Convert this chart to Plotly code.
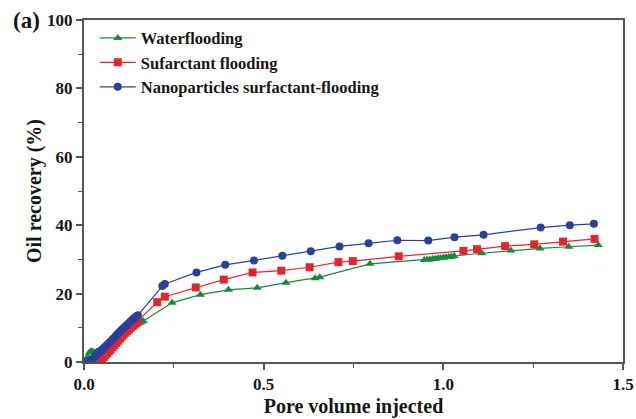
import plotly.graph_objects as go

# Pore volume injected (x) and oil recovery in % (y) for each flooding scheme
water_pv = [0.0, 0.01, 0.015, 0.02, 0.025, 0.03, 0.035, 0.04, 0.045, 0.05, 0.055, 0.06,
            0.065, 0.07, 0.075, 0.08, 0.085, 0.09, 0.095, 0.10, 0.105, 0.11, 0.115, 0.12,
            0.125, 0.13, 0.135, 0.14, 0.145, 0.15, 0.155, 0.16, 0.165,
            0.245, 0.324, 0.402, 0.482, 0.562, 0.643, 0.656, 0.796,
            0.947, 0.955, 0.962, 0.970, 0.977, 0.985, 0.992, 1.000, 1.007, 1.015, 1.022, 1.030,
            1.107, 1.188, 1.269, 1.349, 1.431]
water_rec = [0.0, 1.5, 2.8, 3.2, 3.0, 2.8, 3.0, 3.2, 3.5, 3.8, 4.2, 4.6,
             5.0, 5.4, 5.9, 6.3, 6.7, 7.1, 7.5, 7.9, 8.3, 8.7, 9.0, 9.4,
             9.7, 10.0, 10.3, 10.6, 10.9, 11.2, 11.5, 11.8, 12.0,
             17.3, 19.7, 21.1, 21.7, 23.2, 24.5, 24.8, 28.7,
             29.8, 29.9, 30.0, 30.1, 30.2, 30.3, 30.4, 30.5, 30.6, 30.7, 30.8, 31.0,
             31.8, 32.6, 33.2, 33.7, 34.2]

surf_pv = [0.0, 0.02, 0.03, 0.04, 0.045, 0.05, 0.055, 0.06, 0.065, 0.07, 0.075, 0.08,
           0.085, 0.09, 0.095, 0.10, 0.105, 0.11, 0.115, 0.12, 0.125, 0.13, 0.135, 0.14,
           0.145, 0.15,
           0.204, 0.225, 0.311, 0.389, 0.469, 0.549, 0.628, 0.708, 0.748, 0.876,
           1.056, 1.094, 1.172, 1.253, 1.333, 1.421]
surf_rec = [0.0, 0.0, 0.0, 0.0, 0.3, 0.8, 1.4, 2.0, 2.6, 3.2, 3.8, 4.4,
            5.0, 5.6, 6.2, 6.8, 7.4, 8.0, 8.5, 9.0, 9.5, 10.0, 10.5, 11.0,
            11.5, 12.0,
            17.5, 19.1, 21.8, 24.1, 26.2, 26.7, 27.7, 29.2, 29.5, 30.9,
            32.5, 33.0, 33.9, 34.4, 35.2, 36.0]

nano_pv = [0.0, 0.01, 0.02, 0.025, 0.03, 0.035, 0.04, 0.045, 0.05, 0.055, 0.06, 0.065,
           0.07, 0.075, 0.08, 0.085, 0.09, 0.095, 0.10, 0.105, 0.11, 0.115, 0.12, 0.125,
           0.13, 0.135, 0.14, 0.145, 0.15,
           0.218, 0.225, 0.313, 0.393, 0.473, 0.552, 0.631, 0.711, 0.792, 0.872,
           0.958, 1.031, 1.112, 1.271, 1.352, 1.419]
nano_rec = [0.0, 0.2, 0.6, 1.0, 1.5, 2.0, 2.6, 3.1, 3.6, 4.1, 4.6, 5.1,
            5.6, 6.1, 6.7, 7.2, 7.8, 8.3, 8.9, 9.4, 9.9, 10.4, 10.9, 11.4,
            11.9, 12.4, 12.9, 13.3, 13.7,
            22.2, 22.8, 26.2, 28.4, 29.7, 31.1, 32.4, 33.8, 34.7, 35.6,
            35.5, 36.5, 37.2, 39.3, 40.0, 40.4]

x_ticks = [0.0, 0.5, 1.0, 1.5]
y_ticks = [0, 20, 40, 60, 80, 100]

FONT = "Liberation Serif, Times New Roman, serif"
AXIS_COLOR = "#555555"
TEXT_COLOR = "#161616"

series = [
    ("Waterflooding", water_pv, water_rec, "#17893c", "triangle-up"),
    ("Sufarctant flooding", surf_pv, surf_rec, "#e3262d", "square"),
    ("Nanoparticles surfactant-flooding", nano_pv, nano_rec, "#2c3f9e", "circle"),
]

fig = go.Figure()
for name, xs, ys, color, symbol in series:
    fig.add_trace(go.Scatter(
        x=xs, y=ys, name=name, mode="lines+markers",
        line=dict(color=color, width=1.2),
        marker=dict(symbol=symbol, size=8, color=color),
    ))

axis_common = dict(
    showline=True, linecolor=AXIS_COLOR, linewidth=2, mirror=True,
    ticks="outside", ticklen=6, tickwidth=1.5, tickcolor=AXIS_COLOR,
    showgrid=False, zeroline=False, automargin=False,
    tickfont=dict(family=FONT, size=17, color=TEXT_COLOR, weight="bold"),
    title_font=dict(family=FONT, size=20, color=TEXT_COLOR, weight="bold"),
)

fig.update_xaxes(
    range=[0, 1.5], tickvals=x_ticks, ticktext=[f"{v:.1f}" for v in x_ticks],
    title_text="Pore volume injected", title_standoff=6,
    minor=dict(ticks="outside", ticklen=4, tickwidth=1.2, tickcolor=AXIS_COLOR, dtick=0.25, tick0=0),
    **axis_common,
)
fig.update_yaxes(
    range=[0, 100], tickvals=y_ticks,
    title_text="Oil recovery (%)", title_standoff=0,
    minor=dict(ticks="outside", ticklen=4, tickwidth=1.2, tickcolor=AXIS_COLOR, dtick=10, tick0=0),
    **axis_common,
)

fig.add_annotation(
    text="(a)", xref="paper", yref="paper", x=-0.135, y=1.0,
    xanchor="left", yanchor="middle", showarrow=False,
    font=dict(family=FONT, size=23, color=TEXT_COLOR, weight="bold"),
)

fig.update_layout(
    width=636, height=419,
    margin=dict(l=84, r=13, t=20, b=57),
    paper_bgcolor="white", plot_bgcolor="white",
    showlegend=True,
    legend=dict(
        x=0.02, y=0.998, xanchor="left", yanchor="top",
        bgcolor="rgba(0,0,0,0)",
        font=dict(family=FONT, size=16.5, color=TEXT_COLOR, weight="bold"),
        itemwidth=36, tracegroupgap=0,
    ),
)

fig.write_html("out.html")
